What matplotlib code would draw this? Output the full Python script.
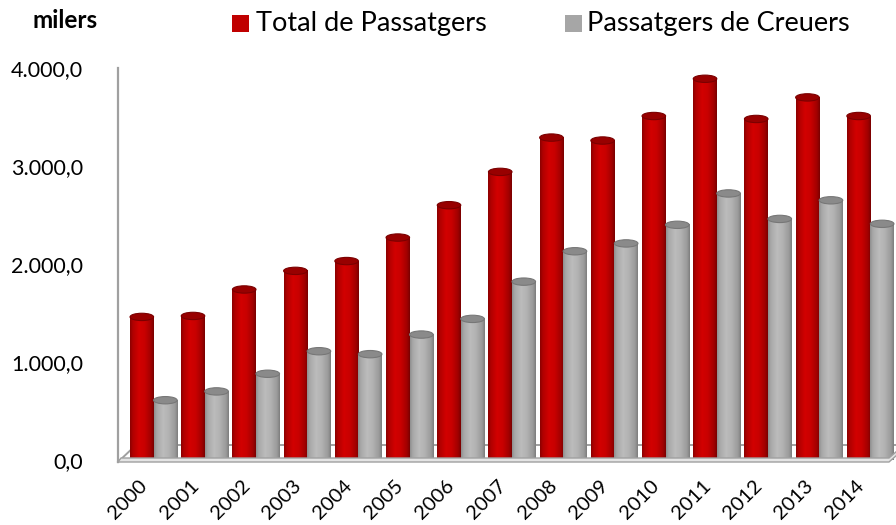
import numpy as np
import matplotlib
matplotlib.use("Agg")
import matplotlib.pyplot as plt
from matplotlib.patches import Ellipse, Rectangle, Polygon
from matplotlib.lines import Line2D
from matplotlib.colors import LinearSegmentedColormap
from matplotlib.transforms import ScaledTranslation

# Passenger traffic, thousands
years = [str(y) for y in range(2000, 2015)]
total_passatgers = [1460, 1470, 1740, 1930, 2030, 2270, 2600, 2940,
                    3290, 3260, 3510, 3890, 3480, 3700, 3510]
passatgers_creuers = [610, 700, 880, 1110, 1080, 1280, 1440, 1820,
                      2130, 2210, 2400, 2720, 2460, 2650, 2410]
series_names = ["Total de Passatgers", "Passatgers de Creuers"]
unit_label = "milers"
y_ticks = [0, 1000, 2000, 3000, 4000]

FONT = "Lato"
plt.rcParams["font.family"] = [FONT, "DejaVu Sans"]

W, H = 896, 525
fig = plt.figure(figsize=(W / 100, H / 100), dpi=100)


def fx(px):
    return px / W


def fy(py):
    return 1 - py / H


ax = fig.add_axes([fx(118), fy(460), fx(896) - fx(118), fy(68) - fy(460)])
ax.set_ylim(0, 4000)
ax.set_xlim(-0.695, 14.5)
for s in ax.spines.values():
    s.set_visible(False)


def fmt(v):
    s = f"{v:,.1f}"
    return s.replace(",", "X").replace(".", ",").replace("X", ".")


ax.set_yticks(y_ticks)
ax.set_yticklabels([fmt(v) for v in y_ticks], fontsize=15.5)
ax.tick_params(axis="y", length=0, pad=25)

x = np.arange(len(years))
ax.set_xticks(x)
ax.set_xticklabels(years, rotation=45, ha="right", fontsize=14.5)
ax.tick_params(axis="x", length=0, pad=12)
shift = ScaledTranslation(-3 / 100, 0, fig.dpi_scale_trans)
for lab in ax.get_xticklabels():
    lab.set_transform(lab.get_transform() + shift)

# cylinder shading colormaps (left -> right across each bar)
red_cmap = LinearSegmentedColormap.from_list(
    "cyl_red", [(0, "#8a0000"), (0.12, "#b00000"), (0.38, "#d20000"),
                (0.62, "#c80000"), (0.88, "#a00000"), (1, "#780000")])
grey_cmap = LinearSegmentedColormap.from_list(
    "cyl_grey", [(0, "#8e8e8e"), (0.12, "#a8a8a8"), (0.38, "#bcbcbc"),
                 (0.62, "#b2b2b2"), (0.88, "#9a9a9a"), (1, "#7c7c7c")])
grad = np.linspace(0, 1, 256).reshape(1, -1)

bw = 0.46
ell_h = 75  # top ellipse height in data units
bars_total = ax.bar(x - bw / 2, total_passatgers, bw, color="none",
                    edgecolor="none", zorder=3)
bars_cru = ax.bar(x + bw / 2, passatgers_creuers, bw, color="none",
                  edgecolor="none", zorder=3)


def shade(rect, cmap, top_color, rim_color, z):
    x0 = rect.get_x()
    w = rect.get_width()
    h = rect.get_height()
    ax.imshow(grad, extent=(x0, x0 + w, 0, h), aspect="auto", cmap=cmap,
              interpolation="bilinear", zorder=z)
    ax.add_patch(Ellipse((x0 + w / 2, h), w, ell_h, facecolor=top_color,
                         edgecolor=rim_color, lw=0.8, zorder=z + 0.1))


for i, (rt, rc) in enumerate(zip(bars_total, bars_cru)):
    shade(rt, red_cmap, "#980000", "#7a0000", 3 + i * 0.01)
    shade(rc, grey_cmap, "#8a8a8a", "#777777", 3.005 + i * 0.01)

ax.set_xlim(-0.695, 14.5)
ax.set_ylim(0, 4000)

# axis wall and floor outline (drawn in figure pixel space)
tf = fig.transFigure
axis_col = "#a0a0a0"
ax.add_line(Line2D([fx(118), fx(118)], [fy(68), fy(462)], color=axis_col,
                   lw=1.6, transform=tf, clip_on=False, zorder=2))
ax.add_line(Line2D([fx(118), fx(136)], [fy(462), fy(445)], color=axis_col,
                   lw=1.4, transform=tf, clip_on=False, zorder=2))
ax.add_line(Line2D([fx(136), fx(905)], [fy(445), fy(445)], color=axis_col,
                   lw=1.4, transform=tf, clip_on=False, zorder=2))
ax.add_patch(Polygon([(fx(118), fy(462)), (fx(889), fy(462)),
                      (fx(897), fy(455)), (fx(897), fy(451)),
                      (fx(889), fy(458)), (fx(121), fy(458))],
                     closed=True, facecolor="#e4e4e4", edgecolor=axis_col,
                     lw=1.0, transform=tf, clip_on=False, zorder=6))

# unit label
fig.text(fx(32), fy(21), unit_label, fontsize=17.5, fontweight="bold",
         ha="left", va="center")

# legend
legend_items = [(series_names[0], "#c00000", 232, 256),
                (series_names[1], "#a6a6a6", 565, 587)]
for name, col, sq_x, tx in legend_items:
    fig.add_artist(Rectangle((fx(sq_x), fy(32)), fx(17), fy(15) - fy(32),
                             facecolor=col, edgecolor="none", transform=tf))
    fig.text(fx(tx), fy(23), name, fontsize=19.5, ha="left", va="center")

fig.savefig("out.png", dpi=100)
